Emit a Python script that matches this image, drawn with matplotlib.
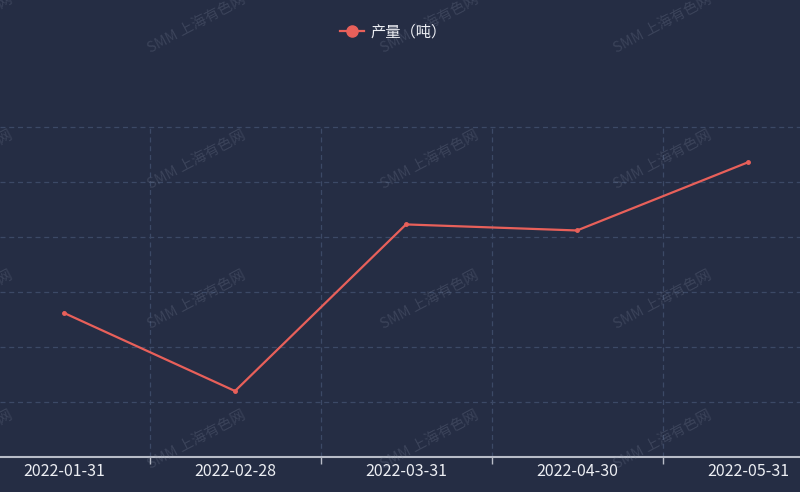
import numpy as np
import matplotlib.pyplot as plt

plt.rcParams['font.family'] = ['Noto Sans CJK SC', 'DejaVu Sans']

dates = ["2022-01-31", "2022-02-28", "2022-03-31", "2022-04-30", "2022-05-31"]
output = [262, 120, 423, 412, 536]
series_name = "产量（吨）"

BG = "#252d44"
LINE = "#e8605a"
GRID = "#3c4966"

fig = plt.figure(figsize=(8, 4.92), dpi=100)
fig.patch.set_facecolor(BG)

# plot area: bottom axis line at y=457 px, top grid line at y=127 px
ax_bottom = (492 - 457) / 492
ax_height = (457 - 126) / 492
ax = fig.add_axes([0, ax_bottom, 1, ax_height])
ax.set_facecolor(BG)

x = np.arange(len(dates))
ax.plot(x, output, color=LINE, lw=1.6, marker="o", ms=2.5, zorder=3)

ax.set_xlim(-64 / 171, 4 + 52 / 171)
ax.set_ylim(0, 602)

ax.set_yticks(np.arange(0, 601, 100))
ax.tick_params(axis="y", length=0, labelleft=False)
ax.set_xticks(x)
ax.set_xticklabels(dates, fontsize=11.5, color="#eceef3")
ax.set_xticks(x[:-1] + 0.5, minor=True)
ax.tick_params(axis="x", which="major", length=0, pad=4)
ax.tick_params(axis="x", which="minor", length=5, width=1, color="#b8bcc8")

ax.grid(True, axis="y", color=GRID, ls=(0, (4, 3)), lw=0.9)
ax.grid(True, axis="x", which="minor", color=GRID, ls=(0, (4, 3)), lw=0.9)
ax.set_axisbelow(True)

for s in ["top", "right", "left"]:
    ax.spines[s].set_visible(False)
ax.spines["bottom"].set_color("#b8bcc8")
ax.spines["bottom"].set_linewidth(1.5)

# legend at top center
fig.legend(handles=ax.lines, labels=[series_name], loc="center",
           bbox_to_anchor=(0.4915, 1 - 32 / 492), frameon=False,
           fontsize=11, labelcolor="#eceef3", handlelength=1.6,
           handletextpad=0.4, markerscale=3.2)

# watermark tiles
for wy in [24, 160, 300, 440]:
    for wx in [-36, 197, 430, 663, 896]:
        fig.text(wx / 800, 1 - wy / 492, "SMM 上海有色网", rotation=28,
                 ha="center", va="center", fontsize=10.5, color="#8a93a8",
                 alpha=0.22, zorder=0)

fig.savefig("out.png", dpi=100, facecolor=BG)
